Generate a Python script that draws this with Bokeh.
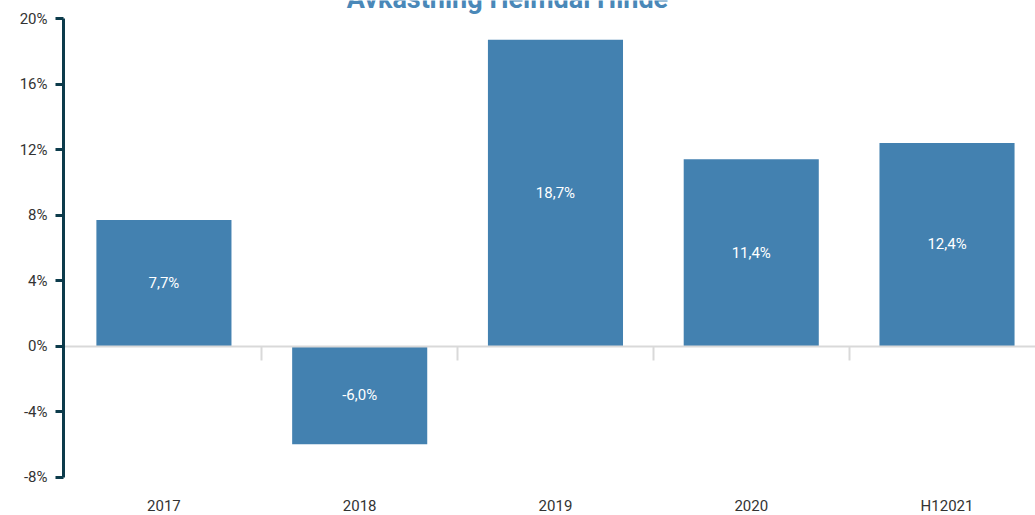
from bokeh.plotting import figure
from bokeh.models import (ColumnDataSource, Range1d, FixedTicker, LinearAxis,
                          PrintfTickFormatter, Label)
from bokeh.core.properties import value
from bokeh.embed import file_html
from bokeh.resources import INLINE

categories = ["2017", "2018", "2019", "2020", "H12021"]
returns = [7.7, -6.0, 18.7, 11.4, 12.4]
y_ticks = [-8, -4, 0, 4, 8, 12, 16, 20]
y_bounds = (-8, 20)
title_text = "Avkastning Heimdal Hinde"

BAR = "#4381b0"
FONT = "Roboto"

xs = list(range(len(categories)))
labels = [f"{v:.1f}".replace(".", ",") + "%" for v in returns]
src = ColumnDataSource(dict(x=xs, top=returns, mid=[v / 2 for v in returns], lab=labels))

p = figure(width=1035, height=515, output_backend="svg", toolbar_location=None,
           x_range=Range1d(-0.513, 4.452), y_range=Range1d(-10.35, 21.1),
           min_border_left=63, min_border_right=0, min_border_top=0,
           min_border_bottom=0, x_axis_location=None, y_axis_location="left")
p.outline_line_color = None
p.grid.visible = False
p.background_fill_color = "white"

p.vbar(x="x", top="top", bottom=0, width=0.69, source=src, fill_color=BAR,
       line_color=None)
p.text(x="x", y="mid", text="lab", source=src, text_color="white",
       text_font=value(FONT), text_font_size="15px", text_align="center",
       text_baseline="middle")

# y axis
ya = p.yaxis[0]
ya.ticker = FixedTicker(ticks=y_ticks)
ya.bounds = y_bounds
ya.formatter = PrintfTickFormatter(format="%d%%")
ya.axis_line_color = "#0c3b4b"
ya.axis_line_width = 3
ya.major_tick_line_color = "#0c3b4b"
ya.major_tick_line_width = 3
ya.major_tick_out = 8
ya.major_tick_in = 0
ya.minor_tick_line_color = None
ya.major_label_text_font = FONT
ya.major_label_text_font_size = "15px"
ya.major_label_text_color = "#333333"
ya.major_label_standoff = 8

# category labels at the bottom of the axis span
xb = LinearAxis(ticker=FixedTicker(ticks=xs), fixed_location=y_bounds[0],
                major_label_overrides={i: c for i, c in zip(xs, categories)})
xb.axis_line_color = None
xb.major_tick_line_color = None
xb.major_tick_out = 0
xb.major_tick_in = 0
xb.minor_tick_line_color = None
xb.minor_tick_out = 0
xb.major_label_text_font = FONT
xb.major_label_text_font_size = "15px"
xb.major_label_text_color = "#333333"
xb.major_label_standoff = 20
p.add_layout(xb, "below")

# zero line with separators
x0 = LinearAxis(ticker=FixedTicker(ticks=[i + 0.5 for i in xs[:-1]]), fixed_location=0)
x0.axis_line_color = "#d9d9d9"
x0.axis_line_width = 2
x0.major_tick_line_color = "#d9d9d9"
x0.major_tick_line_width = 2
x0.major_tick_in = 14
x0.major_tick_out = 0
x0.minor_tick_line_color = None
x0.minor_tick_out = 0
x0.major_label_text_font_size = "0px"
x0.major_label_standoff = 0
x0.major_label_overrides = {i + 0.5: "" for i in xs[:-1]}
p.add_layout(x0, "above")

p.add_layout(Label(x=444, y=517, x_units="screen", y_units="screen",
                   text=title_text, text_align="center", text_baseline="alphabetic",
                   text_font=FONT, text_font_style="bold", text_font_size="27px",
                   text_color="#4a88b8"))

open("out.html", "w").write(file_html(p, INLINE))
